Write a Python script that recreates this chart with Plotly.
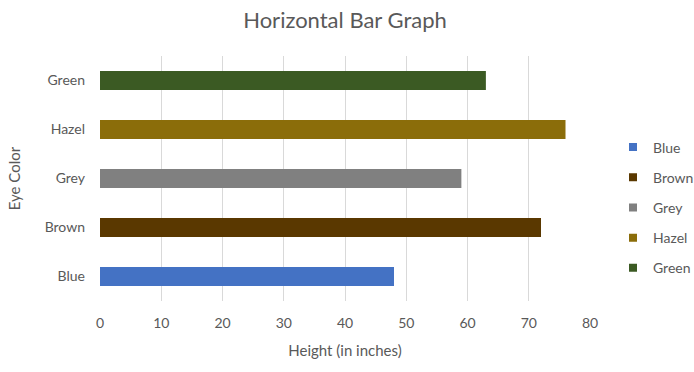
import plotly.graph_objects as go

categories = ["Blue", "Brown", "Grey", "Hazel", "Green"]
heights = [48, 72, 59, 76, 63]
colors = ["#4472C4", "#5A3800", "#808080", "#8B6D0A", "#3B5A23"]
x_ticks = [0, 10, 20, 30, 40, 50, 60, 70, 80]

FONT = "Lato, Liberation Sans, sans-serif"
TXT = "#595959"

fig = go.Figure()
for cat, h, c in zip(categories, heights, colors):
    fig.add_trace(go.Bar(
        x=[h], y=[cat], orientation="h", name=cat,
        marker=dict(color=c, line=dict(width=0)),
        width=0.39, showlegend=False,
    ))
# legend entries with small square keys
for cat, c in zip(categories, colors):
    fig.add_trace(go.Scatter(
        x=[None], y=[None], mode="markers", name=cat, legendgroup=cat,
        marker=dict(symbol="square", size=8, color=c), showlegend=True,
    ))

fig.update_layout(
    width=694, height=372,
    margin=dict(l=100, r=104, t=56, b=71),
    paper_bgcolor="white", plot_bgcolor="white",
    barmode="overlay",
    font=dict(family=FONT, color=TXT, size=14),
    title=dict(text="Horizontal Bar Graph", x=0.5, xref="paper",
               y=1 - 20 / 372, yref="container", yanchor="middle",
               xanchor="center",
               font=dict(size=22, color=TXT, family=FONT)),
    xaxis=dict(range=[0, 80], tickvals=x_ticks, showgrid=True,
               gridcolor="#d9d9d9", gridwidth=1, zeroline=False,
               showline=False, ticks="", ticklabelstandoff=12,
               tickfont=dict(size=14, color=TXT),
               title=dict(text="Height (in inches)", font=dict(size=15, color=TXT),
                          standoff=15)),
    yaxis=dict(categoryorder="array", categoryarray=categories,
               showgrid=False, zeroline=False, showline=False, ticks="",
               ticklabelstandoff=14,
               tickfont=dict(size=14, color=TXT),
               title=dict(text="Eye Color", font=dict(size=15, color=TXT),
                          standoff=20)),
    legend=dict(x=613 / 694, xref="container", y=0.692, xanchor="left",
                yanchor="top", traceorder="grouped", tracegroupgap=9,
                font=dict(size=14, color=TXT), itemwidth=30,
                bgcolor="rgba(0,0,0,0)"),
)

fig.write_html("out.html")
